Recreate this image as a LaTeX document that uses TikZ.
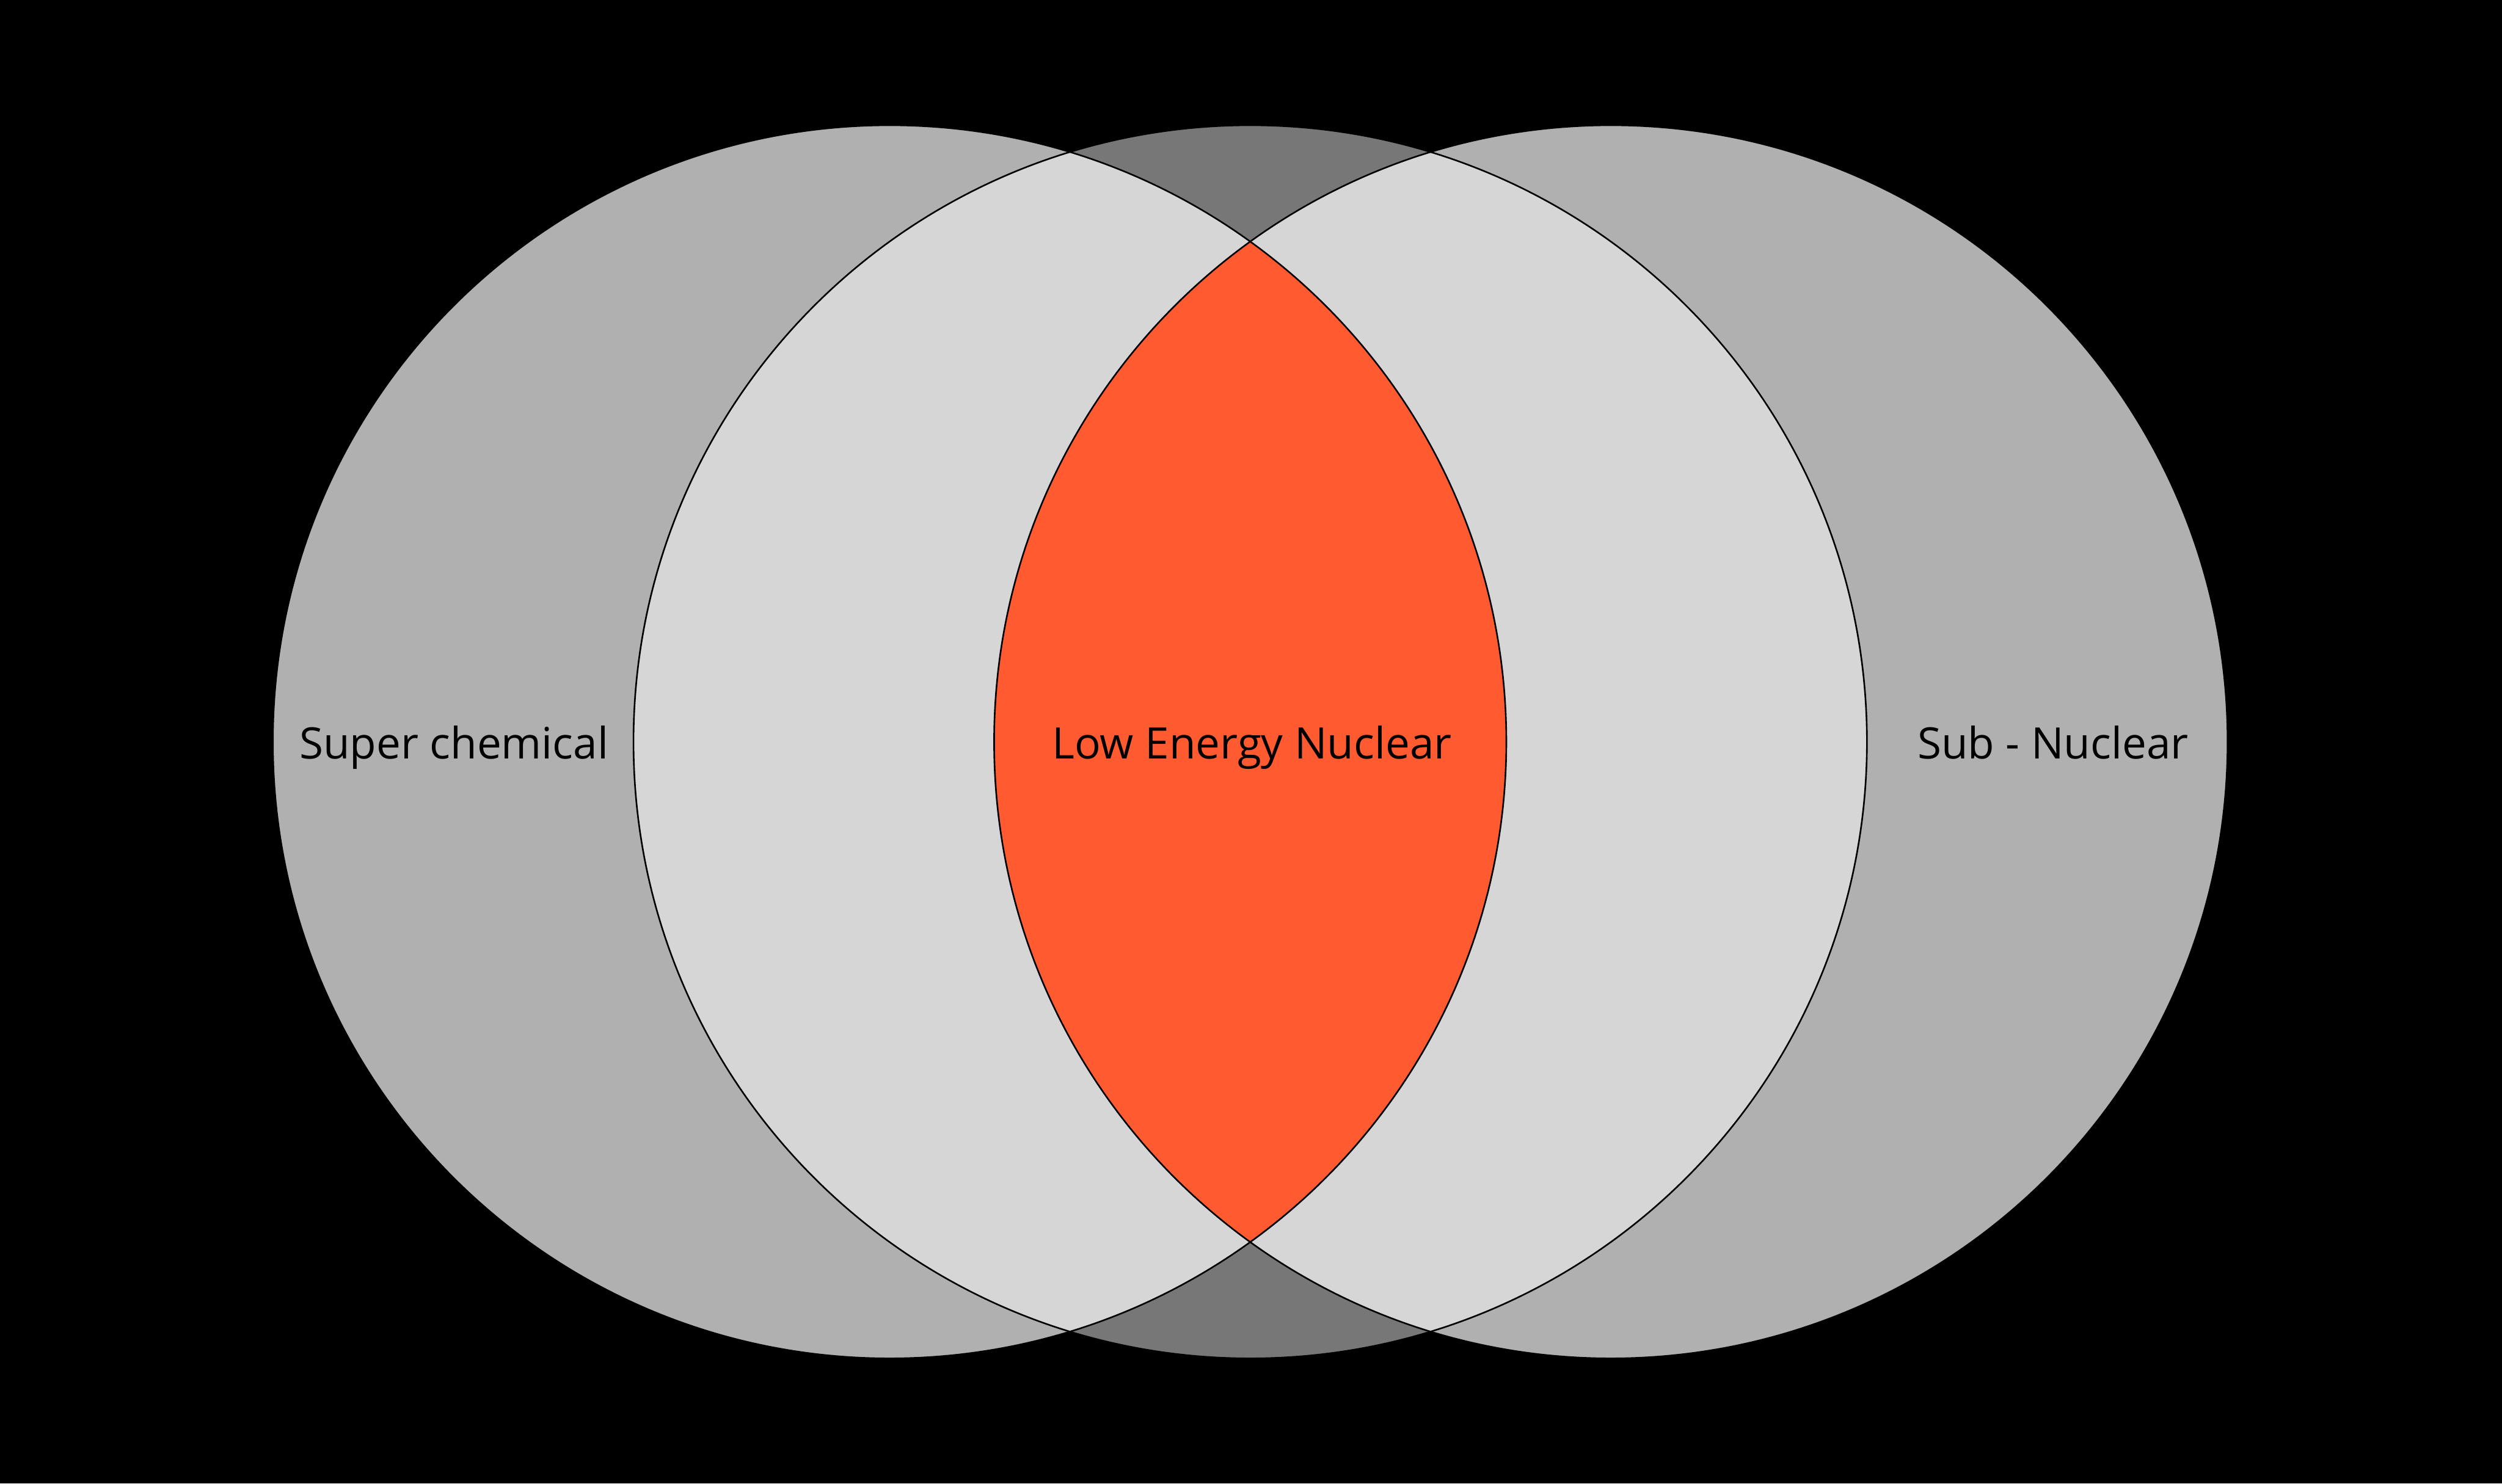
\documentclass[tikz,border=0pt]{standalone}
\usepackage{fontspec}
\setmainfont{Open Sans}
\definecolor{outergray}{HTML}{B0B0B0}
\definecolor{midgray}{HTML}{777777}
\definecolor{lightgray}{HTML}{D6D6D6}
\definecolor{lenorange}{HTML}{FF5A30}
\tikzset{
  ring/.style={draw=black, line width=0.5pt},
  setlabel/.style={anchor=base, inner sep=0pt, font=\fontsize{13.6}{16}\selectfont, text=black}
}
\begin{document}
\begin{tikzpicture}[x=0.5pt,y=-0.5pt]
\fill[black] (0,0) rectangle (1568,930);
\useasboundingbox (0,0) rectangle (1568,930);
\coordinate (L) at (557.5,465);
\coordinate (M) at (783.5,465);
\coordinate (R) at (1009.5,465);
\def\rr{193.25pt}
% outer circles
\fill[outergray] (L) circle[radius=\rr];
\fill[outergray] (R) circle[radius=\rr];
\fill[midgray] (M) circle[radius=\rr];
% L∩M and R∩M
\begin{scope}
  \clip (M) circle[radius=\rr];
  \fill[lightgray] (L) circle[radius=\rr];
  \fill[lightgray] (R) circle[radius=\rr];
\end{scope}
% L∩R
\begin{scope}
  \clip (L) circle[radius=\rr];
  \fill[lenorange] (R) circle[radius=\rr];
\end{scope}
\draw[ring] (L) circle[radius=\rr];
\draw[ring] (M) circle[radius=\rr];
\draw[ring] (R) circle[radius=\rr];
\node[setlabel] (tl) at (284.5,475.7) {Super chemical};
\node[setlabel] (tm) at (784.6,475.7) {Low Energy Nuclear};
\node[setlabel] (tr) at (1286.6,475.7) {Sub - Nuclear};
\end{tikzpicture}
\end{document}
